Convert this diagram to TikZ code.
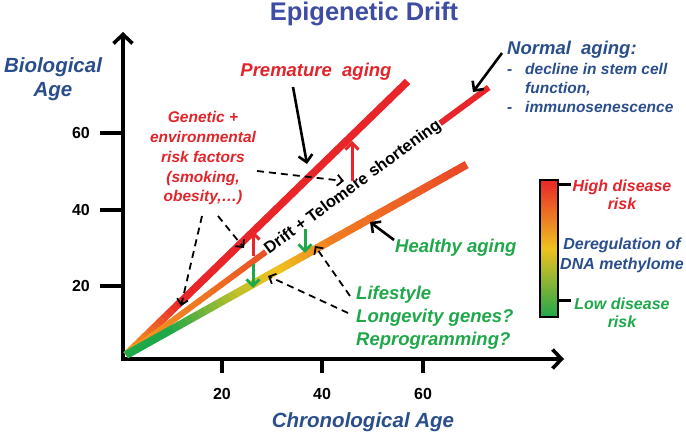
\documentclass[tikz,border=0pt]{standalone}
\usepackage{fontspec}
\setmainfont{Liberation Sans}
\usetikzlibrary{arrows.meta,calc}
\definecolor{lred}{HTML}{E8262A}
\definecolor{tred}{HTML}{E2242B}
\definecolor{lorange}{HTML}{F07A22}
\definecolor{lyorange}{HTML}{F5A21F}
\definecolor{lyellow}{HTML}{EFC11F}
\definecolor{lygreen}{HTML}{C4C12A}
\definecolor{lgreen}{HTML}{1FA84A}
\definecolor{tgreen}{HTML}{1FA84A}
\definecolor{dblue}{HTML}{2A4E8C}
\definecolor{tblue}{HTML}{3E4DA3}
\definecolor{lredor}{HTML}{EA4A26}
% gradient segment: #1 width, #2 from, #3 to, #4 ta, #5 tb, #6 colA, #7 colB
\newcommand\gline[7]{%
  \foreach \k in {0,...,11}{%
    \pgfmathsetmacro\ua{#4+(#5-#4)*\k/12}%
    \pgfmathsetmacro\ub{#4+(#5-#4)*(\k+1)/12+0.002}%
    \pgfmathtruncatemacro\mx{100-\k*100/11}%
    \draw[line width=#1, line cap=butt, color=#6!\mx!#7] ($(#2)!\ua!(#3)$) -- ($(#2)!\ub!(#3)$);
  }}
\begin{document}
\begin{tikzpicture}[x=1pt,y=-1pt,
  axis/.style={line width=3.6pt, -{Straight Barb[length=9pt,width=19pt]}},
  tickln/.style={line width=3.6pt},
  blkarrow/.style={line width=2.6pt, -{Straight Barb[length=7pt,width=14pt]}},
  dasharrow/.style={line width=1.8pt, dash pattern=on 7pt off 5pt, -{Straight Barb[length=5.5pt,width=11pt]}},
  redarrow/.style={line width=3pt, lred, -{Straight Barb[length=6.5pt,width=13pt]}},
  grnarrow/.style={line width=3pt, lgreen, -{Straight Barb[length=6.5pt,width=13pt]}},
  bi/.style={font=\bfseries\itshape, inner sep=0pt, anchor=base},
  tick/.style={font=\fontsize{16}{18}\selectfont\bfseries, inner sep=0pt}]
\useasboundingbox (0,0) rectangle (686,435);

% title
\node[font=\fontsize{25.5}{28}\selectfont\bfseries, text=tblue, inner sep=0pt, anchor=base] (title) at (364,21) {Epigenetic Drift};

% axes
\coordinate (Ybot) at (123,361);
\coordinate (Ytop) at (123,32);
\coordinate (Xbeg) at (121.2,359);
\coordinate (Xend) at (564,359);
\draw[axis] (Ybot) -- (Ytop);
\draw[axis] (Xbeg) -- (Xend);
\foreach \yy/\lab in {133/60,210/40,286/20}{
  \draw[tickln] (100,\yy) -- (123,\yy);
  \node[tick, anchor=east] (yl\lab) at (90,\yy) {\lab};
}
\foreach \xx/\lab in {222/20,322/40,423/60}{
  \draw[tickln] (\xx,359) -- (\xx,373);
  \node[tick] (xl\lab) at (\xx,394) {\lab};
}
\node[bi, font=\fontsize{20.5}{22}\selectfont\bfseries\itshape, text=dblue] (bio1) at (53,73) {Biological};
\node[bi, font=\fontsize{20.5}{22}\selectfont\bfseries\itshape, text=dblue] (bio2) at (53,97) {Age};
\node[bi, font=\fontsize{20.5}{22}\selectfont\bfseries\itshape, text=dblue] (chrono) at (363,428) {Chronological Age};

% trend lines
\coordinate (S) at (126,355);
\coordinate (Pend) at (407,82);
\coordinate (Nend) at (488,88);
\coordinate (Hend) at (466,165);
% premature
\gline{7.5pt}{S}{Pend}{0}{0.2}{lyorange}{lred}
\gline{7.5pt}{S}{Pend}{0.2}{1}{lred}{lred}
% normal
\gline{6pt}{S}{Nend}{0}{0.18}{lyorange}{lorange}
\gline{6pt}{S}{Nend}{0.18}{0.42}{lorange}{lredor}
\gline{6pt}{S}{Nend}{0.42}{0.66}{lredor}{lred}
\gline{6pt}{S}{Nend}{0.66}{1}{lred}{lred}
% healthy
\gline{8pt}{S}{Hend}{0}{0.12}{lgreen}{lgreen}
\gline{8pt}{S}{Hend}{0.12}{0.34}{lgreen}{lygreen}
\gline{8pt}{S}{Hend}{0.34}{0.44}{lygreen}{lyellow}
\gline{8pt}{S}{Hend}{0.44}{0.62}{lyellow}{lorange}
\gline{8pt}{S}{Hend}{0.62}{1}{lorange}{lredor}

% drift text
\node[font=\fontsize{16.5}{18}\selectfont\bfseries, fill=white, inner sep=0.8pt, rotate=36.4] (drift) at ($(S)!0.627!(Nend)$) {Drift + Telomere shortening};

% red / green arrows
\coordinate (ra1s) at (253,256); \coordinate (ra1e) at (253,231);
\coordinate (ra2s) at (352,181); \coordinate (ra2e) at (352,141);
\coordinate (ga1s) at (253,264); \coordinate (ga1e) at (253,288);
\coordinate (ga2s) at (305,229); \coordinate (ga2e) at (305,253);
\draw[redarrow] (ra1s) -- (ra1e);
\draw[redarrow] (ra2s) -- (ra2e);
\draw[grnarrow] (ga1s) -- (ga1e);
\draw[grnarrow] (ga2s) -- (ga2e);

% premature aging
\node[bi, font=\fontsize{18.5}{20}\selectfont\bfseries\itshape, text=tred] (prem) at (316,77) {Premature\ \ aging};
\coordinate (premtip) at (307,164);
\draw[blkarrow] (293,87) -- (premtip);

% normal aging
\node[bi, anchor=base west, font=\fontsize{18.5}{20}\selectfont\bfseries\itshape, text=dblue] (norm) at (507,55) {Normal\ \ aging:};
\node[bi, anchor=base west, font=\fontsize{15.5}{17}\selectfont\bfseries\itshape, text=dblue] (d1) at (507,75) {-};
\node[bi, anchor=base west, font=\fontsize{15.5}{17}\selectfont\bfseries\itshape, text=dblue] (n1) at (525,75) {decline in stem cell};
\node[bi, anchor=base west, font=\fontsize{15.5}{17}\selectfont\bfseries\itshape, text=dblue] (n2) at (525,94) {function,};
\node[bi, anchor=base west, font=\fontsize{15.5}{17}\selectfont\bfseries\itshape, text=dblue] (d2) at (507,113) {-};
\node[bi, anchor=base west, font=\fontsize{15.5}{17}\selectfont\bfseries\itshape, text=dblue] (n3) at (525,113) {immunosenescence};
\coordinate (normtip) at (473,92);
\draw[blkarrow] (502,53) -- (normtip);

% genetic risk factors
\foreach \yy/\txt/\nm in {123/{Genetic +}/g1,143/environmental/g2,163/risk factors/g3,183/{(smoking,}/g4,202/{obesity,\ldots)}/g5}{
  \node[bi, font=\fontsize{15.5}{17}\selectfont\bfseries\itshape, text=tred] (\nm) at (203,\yy) {\txt};
}
\coordinate (gt1) at (344,181);
\coordinate (gt2) at (181,306);
\coordinate (gt3) at (244,248);
\draw[dasharrow] (257,171) -- (gt1);
\draw[dasharrow] (202,216) -- (gt2);
\draw[dasharrow] (218,216) -- (gt3);

% healthy aging
\node[bi, anchor=base west, font=\fontsize{18.5}{20}\selectfont\bfseries\itshape, text=tgreen] (healthy) at (395,253) {Healthy aging};
\coordinate (htip) at (370,222);
\draw[blkarrow] (394,240) -- (htip);

% lifestyle
\node[bi, anchor=base west, font=\fontsize{18.5}{20}\selectfont\bfseries\itshape, text=tgreen] (ls1) at (356,300) {Lifestyle};
\node[bi, anchor=base west, font=\fontsize{18.5}{20}\selectfont\bfseries\itshape, text=tgreen] (ls2) at (356,323) {Longevity genes?};
\node[bi, anchor=base west, font=\fontsize{18.5}{20}\selectfont\bfseries\itshape, text=tgreen] (ls3) at (356,346) {Reprogramming?};
\coordinate (lt1) at (268,276);
\coordinate (lt2) at (315,246);
\draw[dasharrow] (348,313) -- (lt1);
\draw[dasharrow] (350,296) -- (lt2);

% colour bar
\shade[top color=lred, bottom color=lgreen, middle color=lyellow] (540,180) rectangle (558,317);
\draw[line width=2pt] (540,180) rectangle (558,317);
\node[inner sep=0pt] (bar) at (549,248.5) {};
\draw[line width=3pt] (558,185) -- (571,185);
\draw[line width=3pt] (558,301) -- (571,301);
\node[bi, font=\fontsize{16}{18}\selectfont\bfseries\itshape, text=tred] (hi1) at (622,192) {High disease};
\node[bi, font=\fontsize{16}{18}\selectfont\bfseries\itshape, text=tred] (hi2) at (622,210) {risk};
\node[bi, font=\fontsize{16}{18}\selectfont\bfseries\itshape, text=dblue] (de1) at (622,250) {Deregulation of};
\node[bi, font=\fontsize{16}{18}\selectfont\bfseries\itshape, text=dblue] (de2) at (622,270) {DNA methylome};
\node[bi, font=\fontsize{16}{18}\selectfont\bfseries\itshape, text=tgreen] (lo1) at (622,310) {Low disease};
\node[bi, font=\fontsize{16}{18}\selectfont\bfseries\itshape, text=tgreen] (lo2) at (622,328) {risk};
\end{tikzpicture}
\end{document}
